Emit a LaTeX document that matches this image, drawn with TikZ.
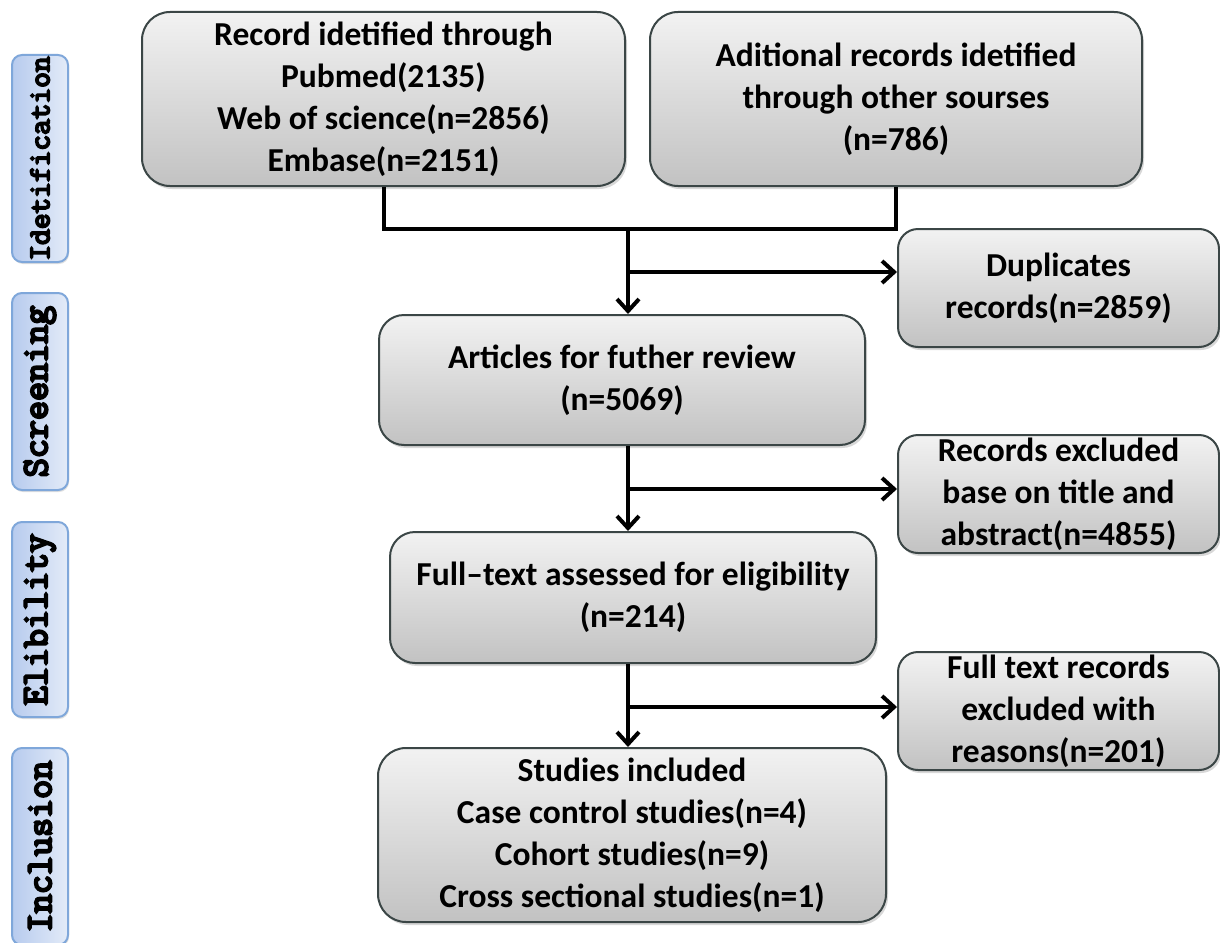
\documentclass[tikz,border=0pt]{standalone}
\usepackage{fontspec}
\setmainfont{Carlito}
\newfontfamily\stagefont{Latin Modern Mono}[FakeBold=6]
\usetikzlibrary{arrows.meta}
\usetikzlibrary{shadows}
\definecolor{boxLine}{HTML}{3B4646}
\definecolor{boxTop}{HTML}{F2F2F2}
\definecolor{boxBottom}{HTML}{C2C2C2}
\definecolor{stageLine}{HTML}{7FA7DA}
\definecolor{stageTop}{HTML}{E3EBF8}
\definecolor{stageBottom}{HTML}{B7CBEE}

\begin{document}
\begin{tikzpicture}[x=1pt, y=-1pt,
		box/.style={draw=boxLine, line width=2pt, top color=boxTop, bottom color=boxBottom, rounded corners=28pt, align=center, inner sep=0pt, font=\fontsize{33.5}{42}\selectfont\bfseries, drop shadow={opacity=0.3, shadow xshift=2pt, shadow yshift=-3pt}},
		sbox/.style={box, rounded corners=20pt, minimum width=321pt, minimum height=118pt},
		stage/.style={draw=stageLine, line width=2pt, left color=stageBottom, right color=stageTop, rounded corners=10pt, rotate=90, minimum height=56pt, inner sep=0pt, font=\fontsize{37}{37}\stagefont, drop shadow={opacity=0.25, shadow xshift=1pt, shadow yshift=-2pt}},
		ln/.style={line width=4pt},
		arr/.style={line width=4pt, -{Straight Barb[length=12pt, width=22pt]}}
		]
		\fill[white] (0,0) rectangle (1220,942);
		\useasboundingbox (0,0) rectangle (1220,942);

		\node[stage, minimum width=207pt, font=\fontsize{30.5}{30.5}\stagefont] (s1) at (40,158.5) {Idetification};
		\node[stage, minimum width=197pt] (s2) at (40,391.5) {Screening};
		\node[stage, minimum width=195pt] (s3) at (40,619.5) {Elibility};
		\node[stage, minimum width=197pt] (s4) at (40,846.5) {Inclusion};

		\node[box, minimum width=483pt, minimum height=174pt] (rec) at (383.5,99) {Record idetified through\\Pubmed(2135)\\Web of science(n=2856)\\Embase(n=2151)};
		\node[box, minimum width=492pt, minimum height=174pt] (add) at (896,99) {Aditional records idetified\\through other sourses\\(n=786)};

		\node[sbox] (dup) at (1058.5,288) {Duplicates\\records(n=2859)};
		\node[box, rounded corners=25pt, minimum width=486pt, minimum height=130pt] (art) at (622,380) {Articles for futher review\\(n=5069)};

		\node[sbox] (excl) at (1058.5,494) {Records excluded\\base on title and\\abstract(n=4855)};
		\node[box, rounded corners=25pt, minimum width=486pt, minimum height=131pt] (full) at (633,597.5) {Full–text assessed for eligibility\\(n=214)};

		\node[sbox] (ftx) at (1058.5,711) {Full text records\\excluded with\\reasons(n=201)};
		\node[box, minimum width=508pt, minimum height=174pt] (inc) at (632,835) {Studies included\\Case control studies(n=4)\\Cohort studies(n=9)\\Cross sectional studies(n=1)};

		\coordinate (join1) at (628,229);
		\coordinate (br1) at (628,272);
		\coordinate (br2) at (628,489);
		\coordinate (br3) at (628,707);

		\draw[ln] (rec.south) |- (join1) -| (add.south);
		\draw[arr] (join1) -- (join1 |- art.north);
		\draw[arr] (br1) -- (br1 -| dup.west);
		\draw[arr] (join1 |- art.south) -- (join1 |- full.north);
		\draw[arr] (br2) -- (br2 -| excl.west);
		\draw[arr] (join1 |- full.south) -- (join1 |- inc.north);
		\draw[arr] (br3) -- (br3 -| ftx.west);
	\end{tikzpicture}
\end{document}
